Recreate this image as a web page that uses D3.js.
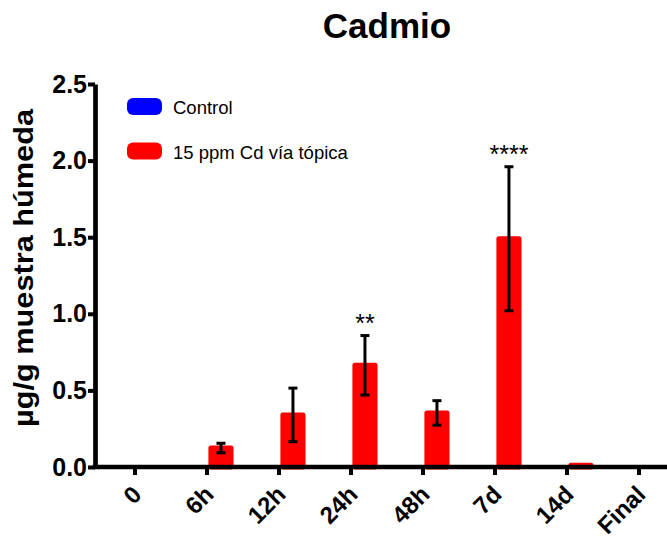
<!DOCTYPE html>
<html>
<head>
<meta charset="utf-8">
<script src="https://cdn.jsdelivr.net/npm/d3@7"></script>
<style>
  html, body { margin: 0; padding: 0; background: #fff; }
  svg { display: block; }
  text { font-family: "Liberation Sans", Arial, Helvetica, sans-serif; }
</style>
</head>
<body>
<svg id="chart" width="667" height="541"></svg>
<script>
// ---- data ----
const categories = ["0", "6h", "12h", "24h", "48h", "7d", "14d", "Final"];
const seriesNames = ["Control", "15 ppm Cd vía tópica"];
const seriesColors = ["#0000ff", "#ff0000"];
const controlMeans = [0, 0, 0, 0, 0, 0, 0, 0];
const controlSD = [0, 0, 0, 0, 0, 0, 0, 0];
const cdMeans = [0, 0.124, 0.34, 0.664, 0.353, 1.49, 0.012, 0];
const cdSD = [0, 0.031, 0.175, 0.194, 0.08, 0.47, 0, 0];
const significance = ["", "", "", "**", "", "****", "", ""];
const yTicks = [0, 0.5, 1.0, 1.5, 2.0, 2.5];
const titleText = "Cadmio";
const yLabel = "µg/g muestra húmeda";

// ---- layout ----
const W = 667, H = 541;
const axisX = 95, axisY = 467;
const svg = d3.select("#chart");

const y = d3.scaleLinear().domain([0, 2.5]).range([axisY, 84]);
const x0 = d3.scaleBand().domain(categories).range([99, 675]).padding(0);
const x1 = d3.scaleBand().domain(seriesNames).range([12, 60]).paddingInner(0.28).paddingOuter(0);

const rows = categories.map((c, i) => ({
  cat: c,
  values: [
    { s: seriesNames[0], color: seriesColors[0], mean: controlMeans[i], sd: controlSD[i] },
    { s: seriesNames[1], color: seriesColors[1], mean: cdMeans[i], sd: cdSD[i] }
  ],
  sig: significance[i]
}));

// ---- title ----
svg.append("text")
  .attr("x", 387).attr("y", 38)
  .attr("text-anchor", "middle")
  .style("font-size", "35px").style("font-weight", "bold")
  .text(titleText);

// ---- y label ----
svg.append("text")
  .attr("transform", "translate(33,268) rotate(-90)")
  .attr("text-anchor", "middle")
  .style("font-size", "28px").style("font-weight", "bold")
  .attr("textLength", 318).attr("lengthAdjust", "spacingAndGlyphs")
  .text(yLabel);

// ---- bars ----
const groups = svg.append("g").selectAll("g").data(rows).join("g")
  .attr("transform", d => `translate(${x0(d.cat)},0)`);

groups.selectAll("rect").data(d => d.values.filter(v => v.mean > 0)).join("rect")
  .attr("x", v => x1(v.s))
  .attr("width", x1.bandwidth())
  .attr("y", v => y(v.mean))
  .attr("height", v => y(0) - y(v.mean))
  .attr("fill", v => v.color)
  .attr("stroke", v => v.color)
  .attr("stroke-width", 5)
  .attr("stroke-linejoin", "round");

// ---- error bars ----
const eb = groups.selectAll("g.err").data(d => d.values.filter(v => v.sd > 0)).join("g")
  .attr("class", "err")
  .attr("transform", v => `translate(${x1(v.s) + x1.bandwidth() / 2},0)`);
eb.append("line")
  .attr("x1", 0).attr("x2", 0)
  .attr("y1", v => y(v.mean + v.sd)).attr("y2", v => y(v.mean - v.sd))
  .attr("stroke", "#000").attr("stroke-width", 3);
eb.append("line")
  .attr("x1", -4.5).attr("x2", 4.5)
  .attr("y1", v => y(v.mean + v.sd)).attr("y2", v => y(v.mean + v.sd))
  .attr("stroke", "#000").attr("stroke-width", 3);
eb.append("line")
  .attr("x1", -4.5).attr("x2", 4.5)
  .attr("y1", v => y(v.mean - v.sd)).attr("y2", v => y(v.mean - v.sd))
  .attr("stroke", "#000").attr("stroke-width", 3);

// ---- significance ----
groups.filter(d => d.sig).append("text")
  .attr("x", d => x1(seriesNames[1]) + x1.bandwidth() / 2)
  .attr("y", d => y(d.values[1].mean + d.values[1].sd) - 4)
  .attr("text-anchor", "middle")
  .style("font-size", "25px")
  .text(d => d.sig);

// ---- y axis ----
const yAxis = svg.append("g")
  .attr("transform", `translate(${axisX},0)`)
  .call(d3.axisLeft(y).tickValues(yTicks).tickFormat(d3.format(".1f")).tickSize(7).tickSizeOuter(0).tickPadding(1));
yAxis.select(".domain").attr("stroke-width", 4.7).attr("stroke", "#000");
yAxis.selectAll(".tick line").attr("stroke-width", 4).attr("stroke", "#000");
yAxis.selectAll(".tick text")
  .style("font-size", "25px").style("font-weight", "bold").attr("fill", "#000");

// ---- x axis ----
const xAxis = svg.append("g")
  .attr("transform", `translate(0,${axisY})`)
  .call(d3.axisBottom(x0).tickSize(8).tickSizeOuter(0));
xAxis.select(".domain").remove();
xAxis.insert("line", ":first-child")
  .attr("x1", axisX - 2.35).attr("x2", W + 5)
  .attr("y1", 0).attr("y2", 0)
  .attr("stroke", "#000").attr("stroke-width", 4.7);
xAxis.selectAll(".tick line").attr("stroke-width", 4).attr("stroke", "#000");
xAxis.selectAll(".tick text")
  .attr("x", 0).attr("y", 0).attr("dy", 0)
  .attr("transform", "translate(8,29) rotate(-45)")
  .style("text-anchor", "end")
  .style("font-size", "24px").style("font-weight", "bold").attr("fill", "#000");

// ---- legend ----
const legend = svg.append("g").selectAll("g").data(seriesNames).join("g")
  .attr("transform", (d, i) => `translate(127,${98 + i * 44.5})`);
legend.append("rect")
  .attr("width", 35).attr("height", 17).attr("rx", 6).attr("ry", 6)
  .attr("fill", (d, i) => seriesColors[i]);
legend.append("text")
  .attr("x", 46).attr("y", 16)
  .style("font-size", "18.5px")
  .text(d => d);
</script>
</body>
</html>
